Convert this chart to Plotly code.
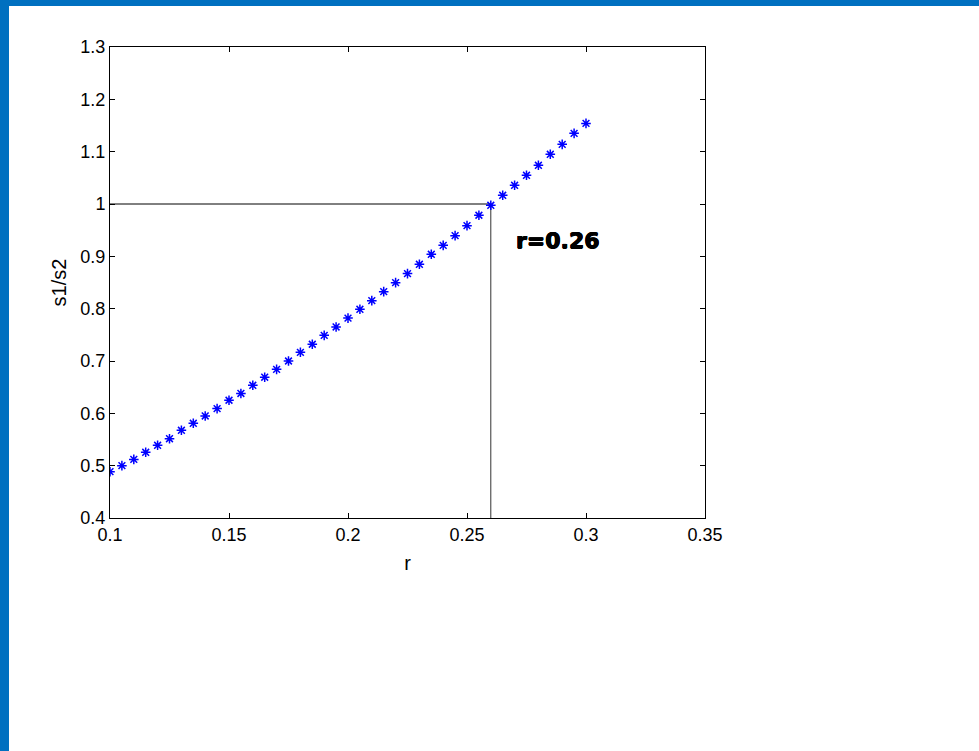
import plotly.graph_objects as go

# data
r_vals = [0.100, 0.105, 0.110, 0.115, 0.120, 0.125, 0.130, 0.135, 0.140, 0.145,
          0.150, 0.155, 0.160, 0.165, 0.170, 0.175, 0.180, 0.185, 0.190, 0.195,
          0.200, 0.205, 0.210, 0.215, 0.220, 0.225, 0.230, 0.235, 0.240, 0.245,
          0.250, 0.255, 0.260, 0.265, 0.270, 0.275, 0.280, 0.285, 0.290, 0.295,
          0.300]
s_ratio = [0.4885, 0.500, 0.512, 0.5256, 0.539, 0.5515, 0.5676, 0.581, 0.595, 0.609,
           0.625, 0.638, 0.6536, 0.669, 0.684, 0.700, 0.7166, 0.732, 0.749, 0.765,
           0.782, 0.7988, 0.8153, 0.8325, 0.8497, 0.867, 0.8848, 0.9039, 0.921, 0.9395,
           0.9586, 0.9785, 0.9976, 1.0167, 1.0358, 1.0549, 1.074, 1.095, 1.114, 1.135,
           1.154]

r_mark = 0.26
s_mark = 1.0
x_min, x_max = 0.1, 0.35
y_min, y_max = 0.4, 1.3

x_ticks = [0.1, 0.15, 0.2, 0.25, 0.3, 0.35]
x_tick_text = ["0.1", "0.15", "0.2", "0.25", "0.3", "0.35"]
y_ticks = [0.4, 0.5, 0.6, 0.7, 0.8, 0.9, 1.0, 1.1, 1.2, 1.3]
y_tick_text = ["0.4", "0.5", "0.6", "0.7", "0.8", "0.9", "1", "1.1", "1.2", "1.3"]

FONT = "Liberation Sans, Arial, sans-serif"

fig = go.Figure()

# reference lines
fig.add_trace(go.Scatter(x=[x_min, r_mark], y=[s_mark, s_mark], mode="lines",
                         line=dict(color="black", width=1), hoverinfo="skip",
                         showlegend=False))
fig.add_trace(go.Scatter(x=[r_mark, r_mark], y=[s_mark, y_min], mode="lines",
                         line=dict(color="#333333", width=1), hoverinfo="skip",
                         showlegend=False))

fig.add_trace(go.Scatter(x=r_vals, y=s_ratio, mode="markers",
                         marker=dict(symbol="asterisk-open", size=8,
                                     line=dict(color="blue", width=1.5),
                                     color="blue"),
                         showlegend=False))

fig.add_annotation(x=0.2697, y=0.931, xref="x", yref="y", text="<b>r=0.26</b>",
                   showarrow=False, xanchor="left", yanchor="middle",
                   font=dict(family="DejaVu Sans", size=22, color="black",
                             shadow="0.5px 0 0 black, -0.5px 0 0 black, 0 0.5px 0 black, 0 -0.5px 0 black"))

# slide frame bars (blue) on top and left edges
W, H = 979, 751
L, R, T, B = 110, 274, 47, 233
pw, ph = W - L - R, H - T - B
fig.add_shape(type="rect", xref="paper", yref="paper",
              x0=-L / pw, x1=(W - L) / pw, y0=1 + (T - 6) / ph, y1=1 + T / ph,
              fillcolor="#0070C0", line=dict(width=0), layer="above")
fig.add_shape(type="rect", xref="paper", yref="paper",
              x0=-L / pw, x1=(-L + 9) / pw, y0=-B / ph, y1=1 + T / ph,
              fillcolor="#0070C0", line=dict(width=0), layer="above")

axis_common = dict(showline=True, linecolor="black", linewidth=1, mirror="ticks",
                   ticks="inside", ticklen=5, tickcolor="black", tickwidth=1,
                   showgrid=False, zeroline=False,
                   tickfont=dict(family=FONT, size=18, color="black"))

fig.update_xaxes(range=[x_min, x_max], tickvals=x_ticks, ticktext=x_tick_text,
                 title=dict(text="r", font=dict(family=FONT, size=20, color="black"),
                            standoff=12),
                 **axis_common)
fig.update_yaxes(range=[y_min, y_max], tickvals=y_ticks, ticktext=y_tick_text,
                 title=dict(text="s1/s2", font=dict(family=FONT, size=20, color="black"),
                            standoff=8),
                 **axis_common)

fig.update_layout(width=W, height=H, margin=dict(l=L, r=R, t=T, b=B, autoexpand=False),
                  paper_bgcolor="white", plot_bgcolor="white",
                  font=dict(family=FONT, color="black"))

fig.write_html("out.html", config={"displayModeBar": False},
               post_script="document.body.style.margin='0';document.body.style.overflow='hidden';")
